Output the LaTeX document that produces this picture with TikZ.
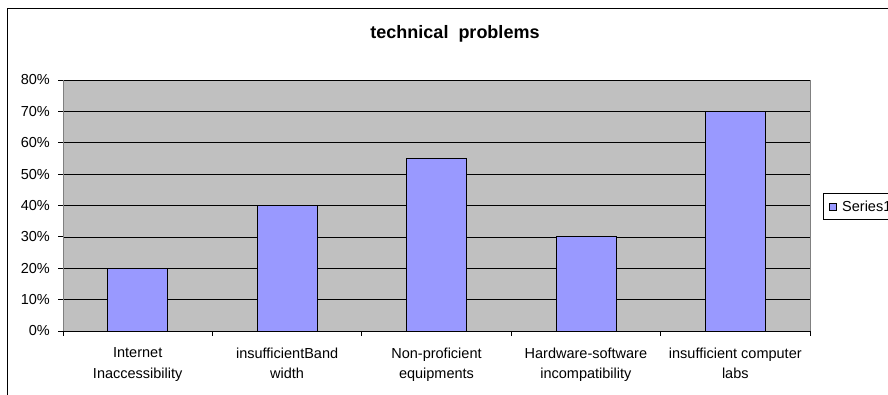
\documentclass[tikz,border=0pt]{standalone}
\usepackage{fontspec}
\setmainfont{Liberation Sans}
\definecolor{barblue}{HTML}{9999FF}
\definecolor{plotgray}{HTML}{C0C0C0}
\definecolor{axisgray}{HTML}{808080}
\begin{document}
\begin{tikzpicture}[x=1pt,y=-1pt,
  lbl/.style={font=\fontsize{14.5}{20.5}\selectfont, inner sep=0pt},
  ylbl/.style={lbl, anchor=east},
  catlbl/.style={lbl, align=center, anchor=north},
  barbox/.style={draw=black, fill=barblue, line width=0.8pt},
  grid/.style={black, line width=0.7pt}]
\useasboundingbox (0,0) rectangle (888,394);
\clip (0,0) rectangle (888,394);
\fill[white] (0,0) rectangle (888,394);
% outer frame
\draw[black, line width=1pt] (7,8) rectangle (900,410);
% title
\node[font=\fontsize{18}{20}\selectfont\bfseries, inner sep=0pt] (title) at (455,33.5) {technical\ \ problems};
% plot area
\fill[plotgray] (63,80) rectangle (810,331);
\foreach \k in {1,...,8} {
  \draw[grid] (63,{331-\k*31.375}) -- (810,{331-\k*31.375});
}
\draw[axisgray, line width=1pt] (63,80) -- (63,331);
\draw[axisgray, line width=0.8pt] (810,80) -- (810,331);
% y ticks and labels
\foreach \k in {0,...,8} {
  \draw[black, line width=0.8pt] (58,{331-\k*31.375}) -- (63,{331-\k*31.375});
  \pgfmathtruncatemacro{\pc}{\k*10}
  \node[ylbl] (y\k) at (50,{331-\k*31.375}) {\pc\%};
}
% bars
\foreach \i/\v in {0/20,1/40,2/55,3/30,4/70} {
  \pgfmathsetmacro{\cx}{63+149.4*(\i+0.5)}
  \draw[barbox] ({\cx-30},331) rectangle ({\cx+30},{331-\v*3.1375});
  \coordinate (bar\i) at (\cx,331);
}
% x axis
\draw[black, line width=1pt] (63,331) -- (810,331);
\foreach \i in {0,...,5} {
  \draw[black, line width=0.8pt] ({63+149.4*\i},331) -- ({63+149.4*\i},336);
}
% category labels
\node[catlbl] (c0) at (137.7,347.5) {Internet\\Inaccessibility};
\node[catlbl] (c1) at (287.1,347.5) {insufficientBand\\width};
\node[catlbl] (c2) at (436.5,347.5) {Non-proficient\\equipments};
\node[catlbl] (c3) at (585.9,347.5) {Hardware-software\\incompatibility};
\node[catlbl] (c4) at (735.3,347.5) {insufficient computer\\labs};
% legend
\draw[black, line width=0.8pt, fill=white] (823,193) rectangle (900,219);
\draw[black, line width=0.5pt, fill=barblue] (829,203) rectangle (836,210);
\node[lbl, anchor=west] (leg) at (842,206.5) {Series1};
\end{tikzpicture}
\end{document}
